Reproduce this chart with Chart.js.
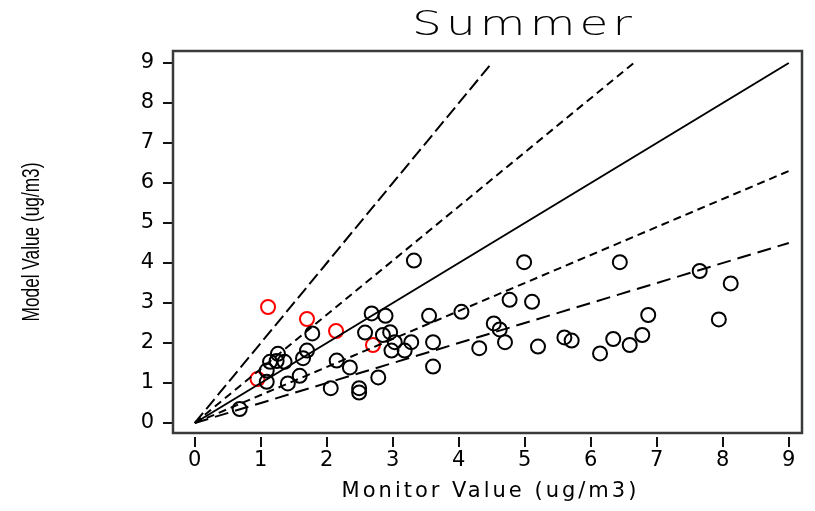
<!DOCTYPE html>
<html>
<head>
<meta charset="utf-8">
<script src="https://cdn.jsdelivr.net/npm/chart.js"></script>
<style>
  html, body { margin: 0; padding: 0; background: #fff; }
  #wrap { width: 815px; height: 511px; }
</style>
</head>
<body>
<div id="wrap"><canvas id="grafico"></canvas></div>
<script>
// valores (ug/m3)
const monitorPreto = [0.68, 1.09, 1.09, 1.14, 1.24, 1.26, 1.36, 1.41, 1.59, 1.64, 1.70, 1.78, 2.06, 2.15, 2.35, 2.49, 2.49,
    2.58, 2.68, 2.78, 2.85, 2.89, 2.96, 2.98, 3.03, 3.18, 3.28, 3.32, 3.55, 3.61, 3.61, 4.04, 4.31, 4.53, 4.62, 4.70,
    4.77, 4.99, 5.11, 5.20, 5.60, 5.71, 6.14, 6.34, 6.44, 6.59, 6.78, 6.87, 7.65, 7.94, 8.12];
const modeloPreto = [0.35, 1.03, 1.31, 1.53, 1.55, 1.73, 1.53, 0.99, 1.18, 1.62, 1.81, 2.24, 0.87, 1.56, 1.39, 0.87, 0.76,
    2.26, 2.74, 1.14, 2.20, 2.68, 2.27, 1.81, 2.02, 1.81, 2.02, 4.06, 2.68, 2.02, 1.41, 2.78, 1.87, 2.49, 2.34, 2.02,
    3.08, 4.02, 3.03, 1.91, 2.14, 2.06, 1.74, 2.10, 4.02, 1.95, 2.20, 2.70, 3.80, 2.59, 3.49];

const monitorVermelho = [0.95, 1.11, 1.70, 2.14, 2.70];
const modeloVermelho = [1.10, 2.90, 2.60, 2.30, 1.95];

// linhas de referencia (extremos)
const linhaX = [0, 9];
const linhaY = [0, 9];
const linhaLongaSupX = [0, 4.5];
const linhaLongaSupY = [0, 9];
const linhaCurtaSupX = [0, 6.65];
const linhaCurtaSupY = [0, 9];
const linhaCurtaInfX = [0, 9];
const linhaCurtaInfY = [0, 6.3];
const linhaLongaInfX = [0, 9];
const linhaLongaInfY = [0, 4.5];

const ticksX = [0, 1, 2, 3, 4, 5, 6, 7, 8, 9];
const ticksY = [0, 1, 2, 3, 4, 5, 6, 7, 8, 9];

const titulo = 'Summer';
const tituloX = 'Monitor Value (ug/m3)';
const tituloY = 'Model Value (ug/m3)';

function pontos(xs, ys) {
    return xs.map((x, i) => ({ x: x, y: ys[i] }));
}

function linha(xs, ys, dash, largura) {
    return {
        type: 'line',
        data: pontos(xs, ys),
        borderColor: '#000',
        borderWidth: largura,
        borderDash: dash,
        pointRadius: 0,
        fill: false
    };
}

function marcadores(xs, ys, cor) {
    return {
        type: 'scatter',
        data: pontos(xs, ys),
        borderColor: cor,
        backgroundColor: 'rgba(0,0,0,0)',
        borderWidth: 2,
        pointRadius: 7,
        pointStyle: 'circle'
    };
}

// moldura, ticks do eixo x e textos
const moldura = {
    id: 'moldura',
    afterDraw(chart) {
        const ctx = chart.ctx;
        const a = chart.chartArea;
        const sx = chart.scales.x;
        ctx.save();
        ctx.strokeStyle = '#3a3a3a';
        ctx.lineWidth = 2.5;
        ctx.strokeRect(a.left, a.top, a.right - a.left, a.bottom - a.top);

        ctx.strokeStyle = '#111';
        ctx.lineWidth = 2;
        ctx.beginPath();
        ticksX.forEach(v => {
            const px = Math.round(sx.getPixelForValue(v));
            ctx.moveTo(px, a.bottom + 4);
            ctx.lineTo(px, a.bottom + 14);
        });
        ctx.stroke();

        ctx.fillStyle = '#000';
        ctx.textAlign = 'center';
        ctx.textBaseline = 'middle';

        ctx.save();
        ctx.font = '200 34px "DejaVu Sans"';
        ctx.letterSpacing = '3px';
        ctx.translate(524, 26);
        ctx.scale(1.38, 1);
        ctx.fillText(titulo, 0, 0);
        ctx.restore();

        ctx.save();
        ctx.font = '21px "DejaVu Sans"';
        ctx.letterSpacing = '3px';
        ctx.fillText(tituloX, (a.left + a.right) / 2 + 3, 492);
        ctx.restore();

        ctx.save();
        ctx.font = '23px "Liberation Sans", sans-serif';
        ctx.translate(33, (a.top + a.bottom) / 2);
        ctx.rotate(-Math.PI / 2);
        ctx.scale(0.75, 1);
        ctx.fillText(tituloY, 0, 0);
        ctx.restore();

        ctx.restore();
    }
};

document.addEventListener('DOMContentLoaded', () => {
    const ctx = document.getElementById('grafico').getContext('2d');
    new Chart(ctx, {
        data: {
            datasets: [
                linha(linhaLongaSupX, linhaLongaSupY, [13, 5], 2),
                linha(linhaCurtaSupX, linhaCurtaSupY, [8, 5], 2),
                linha(linhaX, linhaY, [], 2),
                linha(linhaCurtaInfX, linhaCurtaInfY, [8, 5], 2),
                linha(linhaLongaInfX, linhaLongaInfY, [14, 7], 2),
                marcadores(monitorPreto, modeloPreto, '#000'),
                marcadores(monitorVermelho, modeloVermelho, '#f00')
            ]
        },
        options: {
            responsive: true,
            maintainAspectRatio: false,
            animation: false,
            layout: { padding: { top: 51, right: 13, left: 0, bottom: 0 } },
            plugins: {
                legend: { display: false },
                title: { display: false },
                tooltip: { enabled: false }
            },
            scales: {
                x: {
                    type: 'linear',
                    min: -0.33,
                    max: 9.2,
                    border: { display: false },
                    grid: { drawOnChartArea: false, tickLength: 14, tickColor: 'rgba(0,0,0,0)' },
                    afterBuildTicks: s => { s.ticks = ticksX.map(v => ({ value: v })); },
                    afterFit: s => { s.height = 78; },
                    ticks: {
                        padding: 1,
                        maxRotation: 0,
                        color: '#000',
                        font: { family: 'DejaVu Sans', size: 21 }
                    }
                },
                y: {
                    type: 'linear',
                    min: -0.25,
                    max: 9.3,
                    border: { display: false },
                    grid: { drawOnChartArea: false, tickLength: 10, tickColor: '#111', lineWidth: 2 },
                    afterBuildTicks: s => { s.ticks = ticksY.map(v => ({ value: v })); },
                    afterFit: s => { s.width = 173; },
                    ticks: {
                        padding: 9,
                        color: '#000',
                        font: { family: 'DejaVu Sans', size: 21 }
                    }
                }
            }
        },
        plugins: [moldura]
    });
});
</script>
</body>
</html>
